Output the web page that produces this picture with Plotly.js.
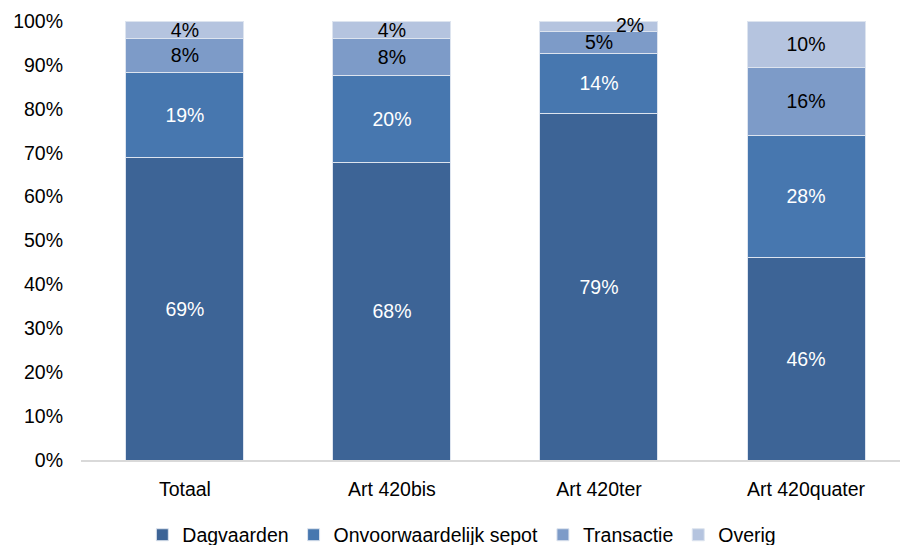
<!DOCTYPE html>
<html><head><meta charset="utf-8">
<script src="https://cdn.plot.ly/plotly-3.0.1.min.js"></script>
<style>html,body{margin:0;padding:0;background:#fff}#chart{width:900px;height:545px}</style>
</head><body><div id="chart"></div>
<script>
const categories = ['Totaal', 'Art 420bis', 'Art 420ter', 'Art 420quater'];
const dagvaarden = [69.0, 67.7, 79.0, 46.2];
const sepot = [19.2, 20.0, 13.7, 27.8];
const transactie = [7.9, 8.4, 5.0, 15.5];
const overig = [3.9, 3.9, 2.3, 10.5];
const labDag = ['69%', '68%', '79%', '46%'];
const labSep = ['19%', '20%', '14%', '28%'];
const labTra = ['8%', '8%', '5%', '16%'];
const labOve = ['4%', '4%', '', '10%'];
const outsideLabel = {idx: 2, text: '2%'};

const FS = 19.5;
const colors = ['#3d6496', '#4777af', '#7d9bc8', '#b5c4df'];
const txtColors = ['#ffffff', '#ffffff', '#000000', '#000000'];
const names = ['Dagvaarden', 'Onvoorwaardelijk sepot', 'Transactie', 'Overig'];
const series = [dagvaarden, sepot, transactie, overig];
const labels = [labDag, labSep, labTra, labOve];

const traces = series.map((s, i) => ({
  type: 'bar', x: categories, y: s, name: names[i],
  text: labels[i], textposition: 'inside', insidetextanchor: 'middle',
  constraintext: 'none', texttemplate: '%{text}',
  textfont: {family: 'Liberation Sans, Arial, sans-serif', size: FS, color: txtColors[i]},
  marker: {color: colors[i], line: {color: '#dde4ef', width: 1}},
  hoverinfo: 'skip'
}));

const k = outsideLabel.idx;
const topY = dagvaarden[k] + sepot[k] + transactie[k] + overig[k];

const layout = {
  width: 900, height: 545,
  margin: {l: 81, r: 0, t: 21, b: 85, autoexpand: false},
  barmode: 'stack', bargap: 0.43,
  paper_bgcolor: '#fff', plot_bgcolor: '#fff',
  font: {family: 'Liberation Sans, Arial, sans-serif', size: FS, color: '#000'},
  uniformtext: {mode: 'show', minsize: FS},
  xaxis: {type: 'category', range: [-0.502, 3.454], showline: true, linecolor: '#d9d9d9', linewidth: 2,
          ticks: '', showgrid: false, zeroline: false, tickfont: {size: FS, color: '#000'},
          ticklabelstandoff: 11, automargin: false},
  yaxis: {range: [0, 100], dtick: 10, ticksuffix: '%', showgrid: false, zeroline: false, showline: false,
          ticks: '', tickfont: {size: FS, color: '#000'}, ticklabelstandoff: 17, automargin: false},
  legend: {orientation: 'h', x: 0.465, xanchor: 'center', y: -0.171, yanchor: 'middle',
           font: {size: FS, color: '#000'}, itemwidth: 30, traceorder: 'normal'},
  annotations: [{x: categories[k], y: topY, text: outsideLabel.text, showarrow: false,
                 xshift: 31, yshift: -4, yanchor: 'middle',
                 font: {size: FS, color: '#000'}}]
};
Plotly.newPlot('chart', traces, layout, {displayModeBar: false, staticPlot: true});
</script></body></html>
